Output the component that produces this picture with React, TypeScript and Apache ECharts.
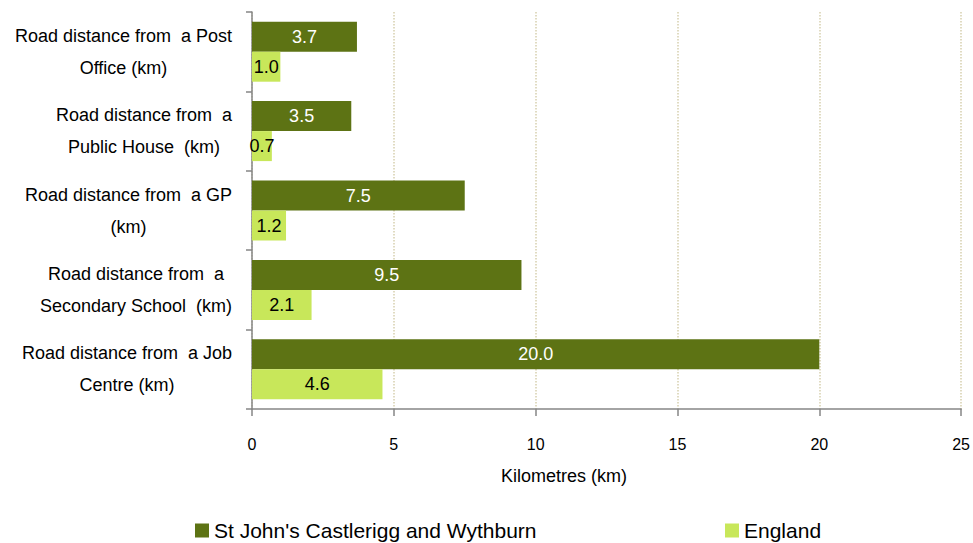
import React, { useEffect, useRef } from "react";
import * as echarts from "echarts";

const categories = [
  "Road distance from  a Post\nOffice (km)",
  "Road distance from  a\nPublic House  (km)",
  "Road distance from  a GP\n(km)",
  "Road distance from  a\nSecondary School  (km)",
  "Road distance from  a Job\nCentre (km)",
];
const seriesNames = ["St John's Castlerigg and Wythburn", "England"];
const localValues = [3.7, 3.5, 7.5, 9.5, 20.0];
const englandValues = [1.0, 0.7, 1.2, 2.1, 4.6];
const xTicks = { min: 0, max: 25, interval: 5 };
const axisName = "Kilometres (km)";

const FONT = "'Liberation Sans', Arial, sans-serif";
const DARK = "#5d7314";
const LIGHT = "#c8e75a";
const AXIS = "#868686";

export default function App() {
  const ref = useRef<HTMLDivElement>(null);
  useEffect(() => {
    if (!ref.current) return;
    const chart = echarts.init(ref.current, undefined, { renderer: "svg" });
    const legendBase = {
      top: 515,
      itemWidth: 14,
      itemHeight: 14,
      itemGap: 5,
      icon: "rect",
      textStyle: { fontFamily: FONT, fontSize: 21, color: "#000" },
    };
    chart.setOption({
      animation: false,
      backgroundColor: "#ffffff",
      textStyle: { fontFamily: FONT },
      grid: { left: 252, right: 10, top: 12, bottom: 134, containLabel: false },
      legend: [
        { ...legendBase, data: [seriesNames[0]], left: 190 },
        { ...legendBase, data: [seriesNames[1]], left: 720 },
      ],
      xAxis: {
        type: "value",
        min: xTicks.min,
        max: xTicks.max,
        interval: xTicks.interval,
        name: axisName,
        nameLocation: "middle",
        nameGap: 58,
        nameTextStyle: { fontFamily: FONT, fontSize: 18, color: "#000", padding: [0, 85, 0, 0] },
        axisLine: { show: true, lineStyle: { color: AXIS, width: 1.5 } },
        axisTick: { show: true, length: 7, lineStyle: { color: AXIS, width: 1.5 } },
        axisLabel: { fontFamily: FONT, fontSize: 16, color: "#000", margin: 27 },
        splitLine: { show: true, lineStyle: { color: "#d6cfae", type: "dotted", width: 1.5 } },
      },
      yAxis: {
        type: "category",
        inverse: true,
        data: categories,
        axisLine: { show: true, lineStyle: { color: AXIS, width: 1.5 } },
        axisTick: { show: true, length: 6, lineStyle: { color: AXIS, width: 1.5 } },
        axisLabel: {
          margin: 20,
          align: "right",
          formatter: (v: string) =>
            v
              .split("\n")
              .map((l) => `{c|${l}}`)
              .join("\n"),
          rich: {
            c: { align: "center", fontFamily: FONT, fontSize: 18, lineHeight: 32, color: "#000" },
          },
        },
        splitLine: { show: false },
      },
      series: [
        {
          name: seriesNames[0],
          type: "bar",
          data: localValues,
          barWidth: 30,
          barGap: "0%",
          itemStyle: { color: DARK },
          label: {
            show: true,
            position: "inside",
            color: "#ffffff",
            fontFamily: FONT,
            fontSize: 18,
            formatter: (p: any) => Number(p.value).toFixed(1),
          },
        },
        {
          name: seriesNames[1],
          type: "bar",
          data: englandValues,
          barWidth: 30,
          barGap: "0%",
          itemStyle: { color: LIGHT },
          label: {
            show: true,
            position: "inside",
            color: "#000000",
            fontFamily: FONT,
            fontSize: 18,
            formatter: (p: any) => Number(p.value).toFixed(1),
          },
        },
      ],
    });
    return () => chart.dispose();
  }, []);
  return (
    <div
      ref={ref}
      style={{ position: "fixed", left: 0, top: 0, width: 973, height: 543, background: "#fff" }}
    />
  );
}
